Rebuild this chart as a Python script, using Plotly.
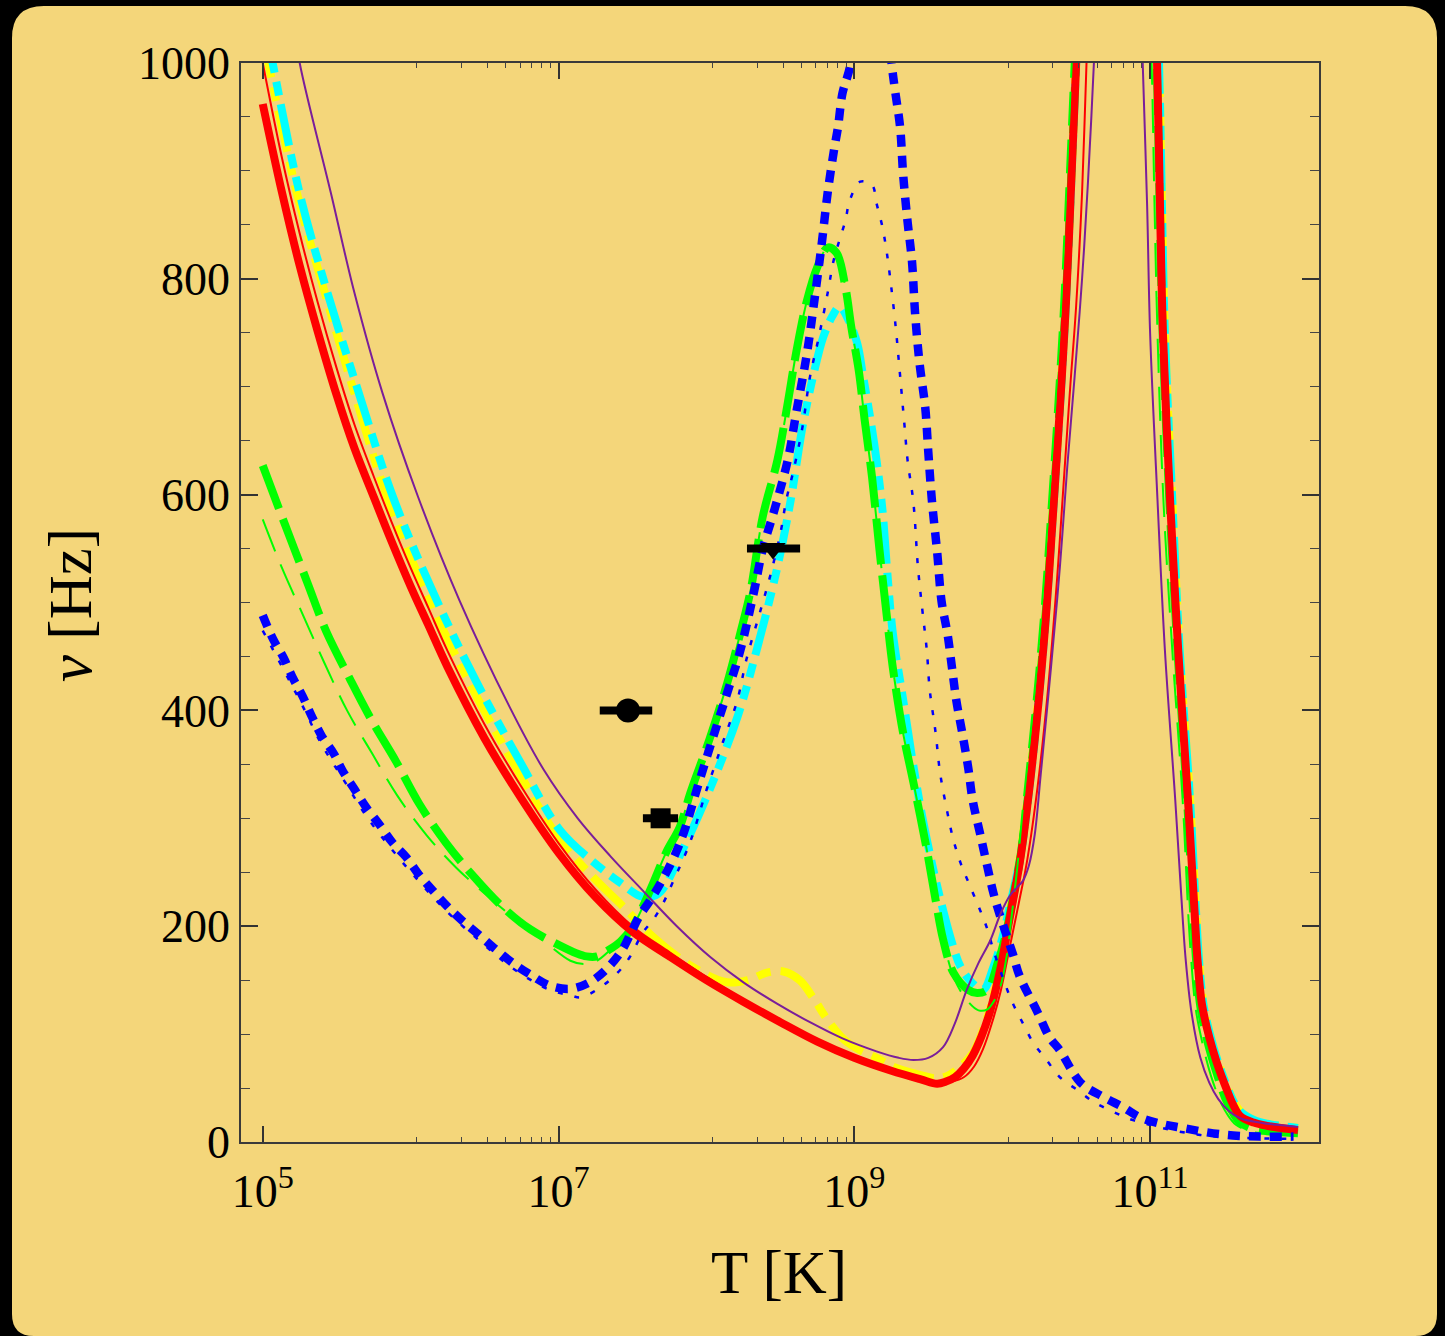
import plotly.graph_objects as go

# ---------------- data ----------------
# temperature as log10(T / K), frequency nu in Hz (None = break above the plot top)
red_thick_logT = [5.00, 5.13, 5.25, 5.37, 5.50, 5.62, 5.75, 5.87, 6.00, 6.12, 6.25, 6.50, 6.75, 7.00, 7.25,
                  7.50, 7.75, 8.00, 8.25, 8.50, 8.75, 9.00, 9.25, 9.45, 9.56, 9.62, 9.68, 9.74, 9.80,
                  9.86, 9.92, 9.99, 10.05, 10.12, 10.17, 10.24, 10.30, 10.34, 10.39, 10.43, 10.47,
                  10.50, 10.53, None,
                  11.02, 11.047, 11.067, 11.087, 11.135, 11.19, 11.256, 11.30, 11.32, 11.35, 11.40,
                  11.45, 11.52, 11.56, 11.61, 11.70, 11.79, 12.0]
red_thick_nu = [962, 880, 812, 752, 692, 643, 598, 557, 515, 479, 440, 374, 318, 268, 227,
                195, 172, 150, 130, 111, 93, 78, 66, 58, 54, 56, 60, 68, 80,
                98, 122, 162, 207, 260, 312, 400, 495, 575, 680, 775, 900,
                1000, 1100, None,
                1100, 1000, 867, 749, 595, 456, 317, 215, 170, 128, 97,
                74, 48, 35, 24, 18, 15, 11]

red_thin_logT = [5.00, 5.13, 5.25, 5.37, 5.50, 5.62, 5.75, 5.87, 6.00, 6.12, 6.25, 6.50, 6.75, 7.00, 7.25,
                 7.50, 7.75, 8.00, 8.25, 8.50, 8.75, 9.00, 9.25, 9.47, 9.58, 9.66, 9.74, 9.81, 9.87,
                 9.93, 9.99, 10.05, 10.11, 10.17, 10.24, 10.31, 10.37, 10.42, 10.46, 10.50, 10.54,
                 10.57, 10.60, None,
                 11.02, 11.047, 11.067, 11.087, 11.135, 11.19, 11.256, 11.30, 11.32, 11.35, 11.40,
                 11.45, 11.52, 11.56, 11.61, 11.70, 11.79, 12.0]
red_thin_nu = [1000, 912, 842, 779, 717, 665, 617, 575, 532, 495, 455, 387, 329, 277, 234,
               200, 176, 153, 132, 112, 94, 79, 67, 58, 55, 56, 60, 70, 86,
               110, 140, 180, 220, 262, 330, 420, 520, 620, 700, 775, 880,
               1000, 1100, None,
               1100, 1000, 867, 749, 595, 456, 317, 215, 170, 128, 97,
               74, 48, 35, 24, 18, 15, 11]

purple_logT = [5.22, 5.25, 5.46, 5.62, 5.81, 6.05, 6.33, 6.67, 6.90, 7.13, 7.35, 7.57, 7.80, 8.03, 8.25,
               8.48, 8.70, 8.92, 9.15, 9.30, 9.40, 9.50, 9.60, 9.68, 9.76, 9.84, 9.92, 9.99, 10.05,
               10.10, 10.14, 10.18, 10.22, 10.26, 10.33, 10.39, 10.44, 10.49, 10.54, 10.58, 10.62,
               10.65, None,
               10.93, 10.95, 10.98, 11.00, 11.05, 11.10, 11.17, 11.21, 11.24, 11.28, 11.34, 11.40,
               11.46, 11.53, 11.61, 11.79, 12.0]
purple_nu = [1030, 1000, 880, 787, 694, 598, 502, 403, 345, 300, 265, 233, 200, 171, 148,
             128, 111, 96, 84, 78, 76, 78, 88, 110, 141, 166, 187, 212, 228,
             236, 242, 256, 285, 340, 440, 533, 626, 710, 800, 890, 1000,
             1100, None,
             1100, 1000, 867, 750, 595, 456, 317, 230, 170, 120, 78, 55,
             40, 29, 22, 17, 14]

yellow_logT = [5.00, 5.23, 5.42, 5.62, 5.84, 6.10, 6.40, 6.70, 7.01, 7.23, 7.46, 7.64, 7.91, 8.14, 8.28,
               8.41, 8.52, 8.63, 8.72, 8.82, 8.93, 9.04, 9.15, 9.26, 9.45, 9.56, 9.64, 9.72, 9.80,
               9.86, 9.92, 9.99, 10.05, 10.12, 10.17, 10.24, 10.30, 10.34, 10.39, 10.43, 10.47, 10.50,
               10.53, None,
               11.03, 11.06, 11.08, 11.10, 11.15, 11.20, 11.27, 11.31, 11.33, 11.36, 11.41, 11.46,
               11.53, 11.57, 11.62, 11.71, 11.79, 12.0]
yellow_nu = [1025, 880, 787, 694, 598, 510, 425, 350, 280, 246, 215, 190, 162, 148, 150,
             157, 158, 150, 134, 113, 95, 85, 78, 70, 62, 59, 62, 70, 82,
             100, 125, 165, 212, 265, 317, 405, 500, 580, 685, 780, 905, 1005,
             1100, None,
             1100, 1000, 867, 749, 595, 456, 317, 215, 170, 128, 97, 74,
             48, 36, 27, 20, 17, 13]

cyan_logT = [5.00, 5.07, 5.25, 5.44, 5.65, 5.88, 6.15, 6.45, 6.75, 7.01, 7.24, 7.42, 7.55, 7.62, 7.69,
             7.84, 8.02, 8.21, 8.34, 8.48, 8.57, 8.65, 8.72, 8.79, 8.85, 8.90, 8.96, 9.02, 9.06,
             9.11, 9.15, 9.19, 9.22, 9.26, 9.33, 9.40, 9.46, 9.53, 9.60, 9.66, 9.72, 9.80, 9.87,
             9.94, 10.01, 10.05, 10.12, 10.17, 10.24, 10.30, 10.34, 10.39, 10.43, 10.47, 10.50,
             10.53, None,
             11.03, 11.06, 11.08, 11.10, 11.15, 11.20, 11.27, 11.31, 11.33, 11.36, 11.41, 11.46,
             11.53, 11.57, 11.62, 11.71, 11.79, 12.0]
cyan_nu = [1050, 998, 879, 786, 694, 598, 510, 425, 350, 289, 259, 240, 228, 227, 232,
           271, 326, 394, 456, 533, 595, 663, 709, 746, 765, 774, 762, 740, 709,
           669, 632, 586, 533, 472, 410, 348, 301, 255, 215, 185, 162, 147, 141,
           162, 194, 218, 262, 312, 400, 495, 575, 680, 775, 900, 1000,
           1100, None,
           1100, 1000, 867, 749, 595, 456, 317, 215, 170, 128, 97, 74,
           48, 36, 27, 20, 17, 13]

green_thick_logT = [5.00, 5.14, 5.30, 5.43, 5.59, 5.74, 5.90, 6.06, 6.24, 6.42, 6.62, 6.81, 7.01, 7.12, 7.19,
                    7.26, 7.34, 7.42, 7.50, 7.57, 7.64, 7.73, 7.82, 7.89, 8.02, 8.14, 8.23, 8.30, 8.38,
                    8.48, 8.55, 8.61, 8.68, 8.75, 8.82, 8.88, 8.94, 8.98, 9.03, 9.07, 9.12, 9.17, 9.22,
                    9.26, 9.33, 9.40, 9.49, 9.55, 9.60, 9.67, 9.77, 9.83, 9.90, 9.97, 10.02, 10.05,
                    10.12, 10.17, 10.24, 10.30, 10.34, 10.39, 10.43, 10.47, 10.50, 10.53, None,
                    11.02, 11.045, 11.065, 11.085, 11.13, 11.185, 11.25, 11.29, 11.31, 11.34, 11.39,
                    11.44, 11.51, 11.56, 11.61, 11.70, 11.79, 12.0]
green_thick_nu = [627, 576, 519, 473, 429, 390, 353, 313, 277, 247, 218, 197, 182, 175, 172,
                  172, 178, 186, 199, 218, 240, 269, 292, 323, 373, 425, 472, 512, 579,
                  632, 685, 734, 780, 811, 829, 824, 792, 755, 715, 669, 616, 549, 487,
                  440, 379, 333, 271, 224, 188, 157, 141, 138, 141, 166, 190, 210,
                  262, 315, 405, 500, 580, 685, 780, 905, 1005, 1100, None,
                  1100, 1000, 867, 749, 595, 456, 317, 215, 170, 125, 92,
                  68, 40, 27, 18, 12, 10, 8]

green_thin_logT = [5.00, 5.13, 5.27, 5.41, 5.57, 5.74, 5.91, 6.11, 6.31, 6.52, 6.72, 6.92, 7.08, 7.17, 7.26,
                   7.35, 7.42, 7.50, 7.57, 7.64, 7.73, 7.82, 7.89, 8.02, 8.14, 8.23, 8.30, 8.38, 8.48,
                   8.55, 8.61, 8.68, 8.75, 8.82, 8.88, 8.94, 8.98, 9.03, 9.07, 9.12, 9.17, 9.22, 9.26,
                   9.33, 9.40, 9.49, 9.55, 9.60, 9.68, 9.77, 9.84, 9.90, 9.95, 9.99, 10.03, 10.06,
                   10.10, 10.14, 10.21, 10.27, 10.31, 10.36, 10.40, 10.44, 10.47, 10.50, None,
                   10.98, 11.01, 11.03, 11.05, 11.09, 11.15, 11.22, 11.26, 11.28, 11.31, 11.36, 11.41,
                   11.48, 11.53, 11.58, 11.67, 11.76, 12.0]
green_thin_nu = [577, 532, 489, 446, 400, 360, 321, 284, 254, 228, 205, 184, 168, 165, 168,
                 178, 186, 199, 218, 240, 269, 292, 323, 373, 425, 472, 512, 579, 632,
                 685, 734, 780, 811, 829, 824, 792, 755, 715, 669, 616, 549, 487, 440,
                 379, 333, 271, 224, 188, 150, 130, 122, 123, 132, 145, 172, 205,
                 252, 310, 405, 500, 580, 685, 780, 905, 1000, 1100, None,
                 1100, 1000, 867, 749, 595, 456, 317, 206, 165, 122, 88, 62,
                 36, 24, 16, 10, 8, 7]

blue_thick_logT = [5.00, 5.07, 5.14, 5.20, 5.27, 5.33, 5.40, 5.48, 5.54, 5.62, 5.70, 5.79, 5.88, 5.97, 6.06,
                   6.15, 6.25, 6.35, 6.47, 6.58, 6.69, 6.81, 6.94, 7.08, 7.21, 7.33, 7.43, 7.49, 7.55,
                   7.62, 7.69, 7.78, 7.85, 7.94, 8.04, 8.14, 8.23, 8.32, 8.38, 8.46, 8.55, 8.61, 8.68,
                   8.73, 8.78, 8.82, 8.86, 8.89, 8.92, 8.97, 9.00, None,
                   9.23, 9.255, 9.275, 9.31, 9.33, 9.36, 9.39, 9.41, 9.44, 9.48, 9.50, 9.525, 9.56,
                   9.59, 9.63, 9.66, 9.69, 9.73, 9.77, 9.80, 9.85, 9.90, 9.94, 9.985, 10.07, 10.12,
                   10.24, 10.32, 10.39, 10.53, 10.68, 10.82, 10.93, 11.07, 11.22, 11.38, 11.56, 11.74,
                   11.97]
blue_thick_nu = [488, 466, 449, 431, 413, 395, 376, 360, 344, 327, 310, 294, 277, 264, 247,
                 233, 218, 205, 191, 178, 166, 155, 145, 142, 148, 161, 178, 194, 210,
                 224, 240, 264, 288, 329, 373, 416, 456, 509, 549, 586, 632, 678, 731,
                 780, 833, 880, 917, 941, 972, 996, 1030, None,
                 1030, 996, 975, 940, 897, 853, 816, 770, 723, 680, 640, 594, 547,
                 501, 471, 440, 409, 379, 347, 317, 286, 255, 231, 210, 175, 153,
                 120, 97, 85, 55, 42, 32, 23, 17, 13, 9, 6, 5,
                 5]

blue_thin_logT = [5.00, 5.14, 5.27, 5.40, 5.55, 5.70, 5.88, 6.06, 6.25, 6.47, 6.69, 6.94, 7.08, 7.15, 7.28,
                  7.40, 7.48, 7.57, 7.64, 7.71, 7.77, 7.89, 8.00, 8.11, 8.21, 8.27, 8.36, 8.43, 8.50,
                  8.54, 8.59, 8.65, 8.70, 8.76, 8.82, 8.86, 8.90, 8.94, 8.97, 9.04, 9.12, 9.15, 9.19,
                  9.22, 9.25, 9.28, 9.30, 9.32, 9.34, 9.36, 9.40, 9.43, 9.46, 9.49, 9.51, 9.55, 9.58,
                  9.63, 9.67, 9.72, 9.78, 9.85, 9.90, 9.94, 10.01, 10.07, 10.14, 10.21, 10.30, 10.39,
                  10.51, 10.62, 10.75, 10.89, 11.34, 11.97]
blue_thin_nu = [474, 438, 404, 368, 335, 302, 270, 241, 213, 186, 161, 141, 136, 134, 143,
                157, 171, 194, 206, 222, 240, 278, 326, 370, 410, 447, 490, 524, 564,
                595, 623, 663, 709, 746, 787, 817, 836, 854, 873, 890, 887, 870, 848,
                824, 792, 755, 725, 694, 663, 632, 592, 533, 493, 456, 419, 379, 342,
                305, 280, 258, 238, 215, 197, 178, 150, 129, 110, 92, 76, 60,
                48, 37, 28, 20, 6.5, 3]

# observed frequencies with temperature ranges (horizontal bars)
obs_T = [2.95e7, 4.9e7, 2.82e8]
obs_T_low = [1.9e7, 3.72e7, 1.88e8]
obs_T_high = [4.3e7, 6.43e7, 4.3e8]
obs_nu = [400, 300, 550]
obs_symbols = ["circle", "square", "triangle-down"]
obs_sizes = [24, 20, 22]

# axis ticks
x_major_vals = [1e5, 1e7, 1e9, 1e11]
x_major_text = ["10<sup>5</sup>", "10<sup>7</sup>", "10<sup>9</sup>", "10<sup>11</sup>"]
x_minor_vals = [1.1 * k * 10 ** n for n in (6, 8, 10) for k in range(1, 9)]
y_major_vals = [0, 200, 400, 600, 800, 1000]

# ---------------- figure ----------------
W, H = 1445, 1336
L, R, T, B = 241, 1319, 63, 1142   # plot area in pixels

def to_T(lg):
    return [None if v is None else 10 ** v for v in lg]

series = [
    dict(lg=yellow_logT, nu=yellow_nu, color="#FFFF00", width=8, dash="42px,10px,14px,10px"),
    dict(lg=cyan_logT, nu=cyan_nu, color="#00FFFF", width=8, dash="42px,9px,14px,9px,14px,9px"),
    dict(lg=green_thick_logT, nu=green_thick_nu, color="#00FF00", width=8, dash="46px,11px"),
    dict(lg=red_thick_logT, nu=red_thick_nu, color="#FF0000", width=8, dash="solid"),
    dict(lg=red_thin_logT, nu=red_thin_nu, color="#FF0000", width=2, dash="solid"),
    dict(lg=green_thin_logT, nu=green_thin_nu, color="#00FF00", width=2, dash="34px,14px"),
    dict(lg=blue_thick_logT, nu=blue_thick_nu, color="#0000FF", width=8.5, dash="12px,9px"),
    dict(lg=blue_thin_logT, nu=blue_thin_nu, color="#0000FF", width=2.5, dash="5px,12px"),
    dict(lg=purple_logT, nu=purple_nu, color="#7A1E9A", width=2, dash="solid"),
]

fig = go.Figure()
for s in series:
    fig.add_trace(go.Scatter(
        x=to_T(s["lg"]), y=s["nu"], mode="lines", connectgaps=False,
        line=dict(color=s["color"], width=s["width"], dash=s["dash"], shape="spline", smoothing=1.0),
        hoverinfo="skip", showlegend=False))

for i in range(len(obs_T)):
    fig.add_trace(go.Scatter(
        x=[obs_T[i]], y=[obs_nu[i]], mode="markers",
        marker=dict(symbol=obs_symbols[i], size=obs_sizes[i], color="black", line=dict(width=0)),
        error_x=dict(type="data", symmetric=False,
                     array=[obs_T_high[i] - obs_T[i]], arrayminus=[obs_T[i] - obs_T_low[i]],
                     thickness=8, width=0, color="black"),
        showlegend=False, hoverinfo="skip"))

def px_x(px):
    return (px - L) / (R - L)

def px_y(py):
    return (B - py) / (B - T)

# rounded parchment panel
x0, x1, y0, y1, rt, rb = 12, 1437, 6, 1336, 32, 22
path = (f"M {px_x(x0 + rt)},{px_y(y0)} L {px_x(x1 - rt)},{px_y(y0)} "
        f"Q {px_x(x1)},{px_y(y0)} {px_x(x1)},{px_y(y0 + rt)} "
        f"L {px_x(x1)},{px_y(y1 - rb)} Q {px_x(x1)},{px_y(y1)} {px_x(x1 - rb)},{px_y(y1)} "
        f"L {px_x(x0 + rb)},{px_y(y1)} Q {px_x(x0)},{px_y(y1)} {px_x(x0)},{px_y(y1 - rb)} "
        f"L {px_x(x0)},{px_y(y0 + rt)} Q {px_x(x0)},{px_y(y0)} {px_x(x0 + rt)},{px_y(y0)} Z")
fig.add_shape(type="path", path=path, xref="paper", yref="paper", layer="below",
              fillcolor="#F4D67A", line=dict(width=0))

serif = "Liberation Serif, Times New Roman, serif"
fig.update_layout(
    width=W, height=H,
    margin=dict(l=L, r=W - R, t=T, b=H - B, pad=0),
    paper_bgcolor="black", plot_bgcolor="rgba(0,0,0,0)",
    showlegend=False,
    font=dict(family=serif, color="black", size=46),
    annotations=[
        dict(text="T [K]", x=px_x(779), y=px_y(1272), xref="paper", yref="paper",
             showarrow=False, xanchor="center", yanchor="middle", font=dict(size=61, family=serif)),
        dict(text="<i>ν</i> [Hz]", x=px_x(70), y=px_y(605), xref="paper", yref="paper",
             showarrow=False, xanchor="center", yanchor="middle", textangle=-90,
             font=dict(size=61, family=serif)),
    ],
)
axis_common = dict(showline=True, linecolor="#3a3a3a", linewidth=1.5, mirror="allticks",
                   showgrid=False, zeroline=False, ticks="inside", tickcolor="#333",
                   tickwidth=1.5, tickfont=dict(size=46, family=serif, color="black"))
fig.update_xaxes(type="log", range=[4.853, 12.142], tickvals=x_major_vals, ticktext=x_major_text,
                 ticklen=16, ticklabelstandoff=8,
                 minor=dict(tickvals=x_minor_vals, ticks="inside", ticklen=5, tickcolor="#444",
                            tickwidth=1.2, showgrid=False),
                 **axis_common)
fig.update_yaxes(range=[0, 1000], tickvals=y_major_vals, ticklen=17,
                 minor=dict(dtick=50, ticks="inside", ticklen=9, tickcolor="#444",
                            tickwidth=1.2, showgrid=False),
                 **axis_common)

fig.write_html("out.html")
